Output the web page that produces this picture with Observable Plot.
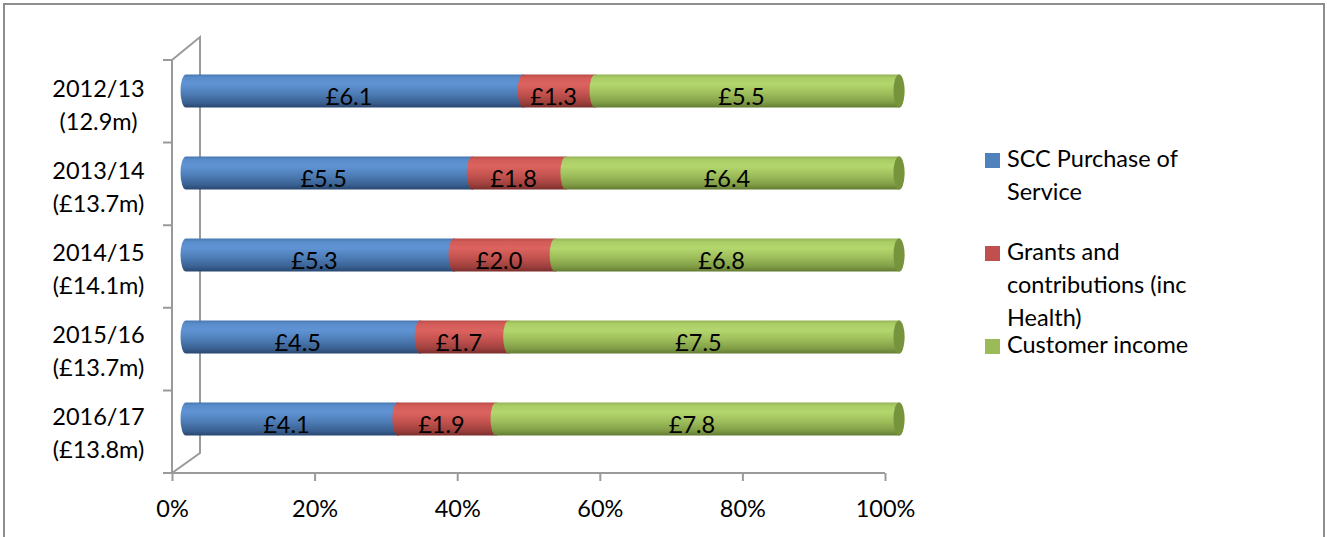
<!DOCTYPE html>
<html>
<head>
<meta charset="utf-8">
<script src="https://cdn.jsdelivr.net/npm/d3@7"></script>
<script src="https://cdn.jsdelivr.net/npm/@observablehq/plot@0.6"></script>
<style>
  body { margin: 0; background: #fff; font-family: Lato, "Liberation Sans", sans-serif; }
  #wrap { position: relative; width: 1327px; height: 537px; overflow: hidden; }
  #border { position: absolute; left: 3px; top: 3px; width: 1322px; height: 700px; border: 2px solid #8e8e8e; box-sizing: border-box; }
  #chart { position: absolute; left: 0; top: 0; }
  #legend { position: absolute; left: 985px; top: 0; font-size: 23.5px; color: #000; }
  .item { position: absolute; left: 0; white-space: nowrap; line-height: 33px; }
  .sw { position: absolute; left: 0; top: 11px; width: 15px; height: 15px; }
  .lab { position: absolute; left: 22px; top: 0; }
</style>
</head>
<body>
<div id="wrap">
  <div id="border"></div>
  <div id="chart"></div>
  <div id="legend"></div>
</div>
<script>
// ---- data ----
const years = ["2012/13", "2013/14", "2014/15", "2015/16", "2016/17"];
const yearTotals = ["(12.9m)", "(£13.7m)", "(£14.1m)", "(£13.7m)", "(£13.8m)"];
const seriesNames = ["SCC Purchase of Service", "Grants and contributions (inc Health)", "Customer income"];
const legendLines = [["SCC Purchase of", "Service"], ["Grants and", "contributions (inc", "Health)"], ["Customer income"]];
const sccPurchase = [6.1, 5.5, 5.3, 4.5, 4.1];
const grants = [1.3, 1.8, 2.0, 1.7, 1.9];
const customerIncome = [5.5, 6.4, 6.8, 7.5, 7.8];
const xTicks = [0, 0.2, 0.4, 0.6, 0.8, 1];

const seriesValues = [sccPurchase, grants, customerIncome];
const flatColors = ["#4F81BD", "#C0504D", "#9BBB59"];
const gradIds = ["gBlue", "gRed", "gGreen"];
const capColor = "#77933C";

// build normalized stacked rows from the values
const rows = [];
years.forEach((yr, i) => {
  const total = d3.sum(seriesValues, s => s[i]);
  let acc = 0;
  seriesValues.forEach((s, k) => {
    const v = s[i];
    rows.push({year: yr, series: seriesNames[k], value: v, start: acc / total, end: (acc + v) / total, last: k === seriesValues.length - 1});
    acc += v;
  });
});

const W = 1327, H = 537;
const mTop = 60, mBottom = 64, mLeft = 172, mRight = 442;
const DX = 14, DY = -11.5;

const labelFor = new Map(years.map((y, i) => [y, y + "\n" + yearTotals[i]]));

const frame3d = (index, scales, values, dim) => {
  const x0 = scales.x(0), x1 = scales.x(1);
  const top = dim.marginTop, bot = dim.height - dim.marginBottom;
  const n = years.length;
  const g = d3.create("svg:g").attr("fill", "none").attr("stroke", "#9a9a9a").attr("stroke-width", 2);
  const p = d3.path();
  p.moveTo(x0, top); p.lineTo(x0, bot); p.lineTo(x1, bot);
  p.moveTo(x0, top); p.lineTo(x0 + 28, top - 23); p.lineTo(x0 + 28, bot - 20); p.lineTo(x0, bot);
  for (let i = 0; i <= n; i++) {
    const yy = top + i * (bot - top) / n;
    p.moveTo(x0 - 9, yy); p.lineTo(x0, yy);
  }
  g.append("path").attr("d", p.toString());
  return g.node();
};

const chart = Plot.plot({
  width: W, height: H,
  marginTop: mTop, marginBottom: mBottom, marginLeft: mLeft, marginRight: mRight,
  style: {fontFamily: "Lato, 'Liberation Sans', sans-serif", fontSize: "23px", color: "#000", overflow: "visible", background: "transparent"},
  x: {domain: [0, 1], label: null},
  y: {domain: years, paddingInner: 0.6, paddingOuter: 0.3, label: null},
  color: {domain: seriesNames, range: gradIds.map(id => `url(#${id})`)},
  marks: [
    Plot.ruleX([0], {stroke: "#9a9a9a", strokeWidth: 2, render: frame3d}),
    Plot.axisX({ticks: xTicks, tickSize: 8, stroke: "#9a9a9a", strokeWidth: 2, text: null, label: null}),
    Plot.axisX({ticks: xTicks, tickSize: 0, tickPadding: 27, tickFormat: d3.format(".0%"), fill: "#000", fontSize: 23.5, label: null}),
    Plot.axisY({tickSize: 0, tickPadding: 74, textAnchor: "middle", lineHeight: 1.42, fill: "#000", fontSize: 23.5, label: null, tickFormat: d => labelFor.get(d)}),
    Plot.barX(rows, {x1: "start", x2: "end", y: "year", fill: "series", dx: DX, dy: DY,
      insetLeft: -5.5, insetRight: -5.5, rx: 5.5, ry: 16.5}),
    Plot.barX(rows.filter(d => d.last), {x1: "end", x2: "end", y: "year", fill: capColor, dx: DX, dy: DY,
      insetLeft: -5.5, insetRight: -5.5, rx: 5.5, ry: 16.5}),
    Plot.text(rows, {x: d => (d.start + d.end) / 2, y: "year", text: d => "£" + d.value.toFixed(1),
      dx: 8, dy: -6, fill: "#000", fontSize: 23.5, textAnchor: "middle", lineAnchor: "middle"})
  ]
});

// gradient definitions for the cylinder shading
const gradStops = [
  [["0", "#4677b3"], ["0.1", "#5b8dcb"], ["0.3", "#5f93d3"], ["0.6", "#4c7bb4"], ["0.85", "#3a6192"], ["1", "#294770"]],
  [["0", "#b84a47"], ["0.1", "#d35c58"], ["0.3", "#dc635f"], ["0.6", "#c1514e"], ["0.85", "#9d403d"], ["1", "#7a2e2c"]],
  [["0", "#93b354"], ["0.1", "#aacd66"], ["0.3", "#b3d66d"], ["0.6", "#9bbb59"], ["0.85", "#809d46"], ["1", "#637b33"]]
];
const svg = d3.select(chart);
const defs = svg.insert("defs", ":first-child");
gradIds.forEach((id, k) => {
  const lg = defs.append("linearGradient").attr("id", id).attr("x1", 0).attr("y1", 0).attr("x2", 0).attr("y2", 1);
  gradStops[k].forEach(([o, c]) => lg.append("stop").attr("offset", o).attr("stop-color", c));
});
document.getElementById("chart").appendChild(chart);

// legend
const legend = d3.select("#legend");
const legendTops = [142, 235, 328];
seriesNames.forEach((name, k) => {
  const item = legend.append("div").attr("class", "item").style("top", legendTops[k] + "px");
  item.append("div").attr("class", "sw").style("background", flatColors[k]);
  item.append("div").attr("class", "lab").html(legendLines[k].join("<br>"));
});
</script>
</body>
</html>
